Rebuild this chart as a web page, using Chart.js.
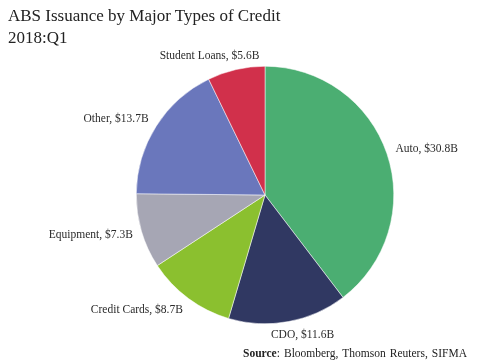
<!DOCTYPE html>
<html lang="en">
<head>
  <meta charset="UTF-8">
  <title>ABS Issuance by Major Types of Credit</title>
  <script src="https://cdn.jsdelivr.net/npm/chart.js"></script>
  <style>
    body {
      margin: 0;
      background: #fff;
      font-family: "Liberation Serif", "DejaVu Serif", serif;
    }
    .wrap {
      position: relative;
      width: 479px;
      height: 363px;
    }
    .title {
      position: absolute;
      left: 8px;
      top: 5px;
      font-size: 17px;
      line-height: 22px;
      color: #222;
    }
    .source {
      position: absolute;
      right: 12px;
      top: 347px;
      font-size: 11.5px;
      color: #222;
      word-spacing: 1.2px;
    }
    canvas {
      position: absolute;
      left: 0;
      top: 0;
    }
  </style>
</head>
<body>
<div class="wrap">
  <canvas id="absChart" width="479" height="363"></canvas>
  <div class="title">ABS Issuance by Major Types of Credit<br>2018:Q1</div>
  <div class="source"><b>Source</b>: Bloomberg, Thomson Reuters, SIFMA</div>
</div>

<script>
  // issuance by credit type, billions of dollars
  var categories = ['Auto', 'CDO', 'Credit Cards', 'Equipment', 'Other', 'Student Loans'];
  var issuance = [30.8, 11.6, 8.7, 7.3, 13.7, 5.6];
  var sliceColors = ['#4bae72', '#303862', '#8bc02f', '#a6a6b4', '#6a77bc', '#d1304b'];

  // writes "Name, $x.xB" just outside each slice
  var outsideLabels = {
    id: 'outsideLabels',
    afterDatasetsDraw: function(chart) {
      var ctx = chart.ctx;
      var meta = chart.getDatasetMeta(0);
      ctx.save();
      ctx.font = '11.5px "Liberation Serif", serif';
      ctx.fillStyle = '#2a2a2a';
      ctx.textBaseline = 'middle';
      meta.data.forEach(function(arc, i) {
        var p = arc.getProps(['x', 'y', 'startAngle', 'endAngle', 'outerRadius'], true);
        var mid = (p.startAngle + p.endAngle) / 2;
        var dx = Math.cos(mid), dy = Math.sin(mid);
        var r = p.outerRadius + 9;
        var ax = p.x + dx * r, ay = p.y + dy * r;
        var text = categories[i] + ', $' + issuance[i].toFixed(1) + 'B';
        var w = ctx.measureText(text).width;
        var shift = Math.max(-w / 2, Math.min(w / 2, dx * w * 1.1));
        ctx.textAlign = 'center';
        ctx.fillText(text, ax + shift, ay + dy * 5);
      });
      ctx.restore();
    }
  };

  var ctx = document.getElementById('absChart').getContext('2d');
  new Chart(ctx, {
    type: 'pie',
    data: {
      labels: categories,
      datasets: [{
        data: issuance,
        backgroundColor: sliceColors,
        borderColor: '#ffffff',
        borderWidth: 0.5
      }]
    },
    options: {
      responsive: false,
      animation: false,
      layout: {
        padding: { left: 136, right: 85, top: 66, bottom: 39 }
      },
      plugins: {
        legend: { display: false },
        tooltip: { enabled: false }
      }
    },
    plugins: [outsideLabels]
  });
</script>
</body>
</html>
